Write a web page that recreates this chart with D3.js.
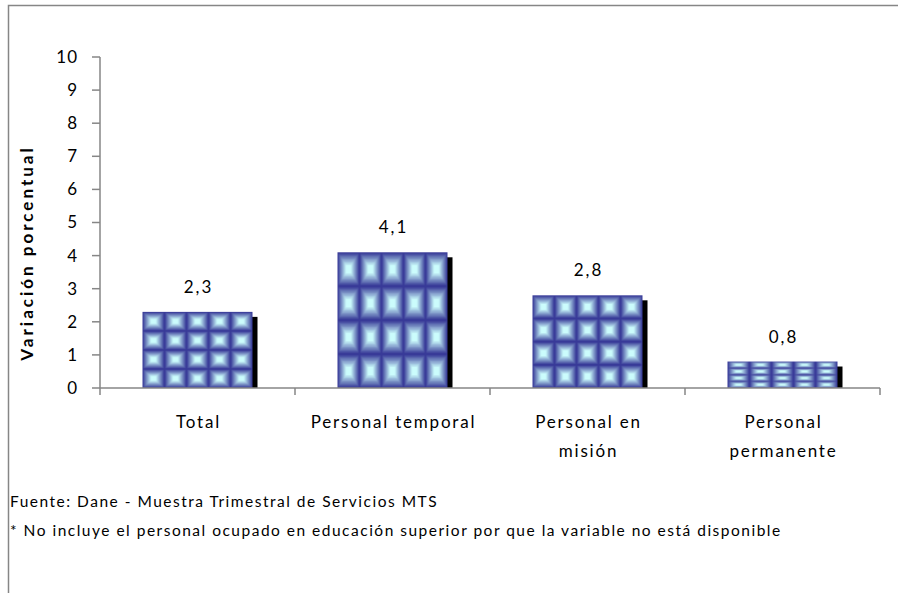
<!DOCTYPE html>
<html>
<head>
<meta charset="utf-8">
<script src="https://cdn.jsdelivr.net/npm/d3@7"></script>
<style>
  body { margin: 0; background: #fff; }
  text { font-family: Lato, "Open Sans", sans-serif; fill: #000; }
</style>
</head>
<body>
<div id="chart"></div>
<script>
// data
var categories = ["Total", "Personal temporal", "Personal en misión", "Personal permanente"];
var catLines = [["Total"], ["Personal temporal"], ["Personal en", "misión"], ["Personal", "permanente"]];
var values = [2.3, 4.1, 2.8, 0.8];
var yTicks = [0, 1, 2, 3, 4, 5, 6, 7, 8, 9, 10];
var notes = ["Fuente: Dane - Muestra Trimestral de Servicios MTS",
             "* No incluye el personal ocupado en educación superior por que la variable no está disponible"];

var W = 898, H = 593;
var margin = {top: 57, left: 100, right: 18, bottom: 205};
var width = W - margin.left - margin.right,
    height = H - margin.top - margin.bottom;

var svg = d3.select("#chart").append("svg")
    .attr("width", W)
    .attr("height", H);

// tiled pattern: 5 x 4 square "pyramids" stretched over every bar
var defs = svg.append("defs");
var pat = defs.append("pattern")
    .attr("id", "tiles")
    .attr("patternUnits", "objectBoundingBox")
    .attr("patternContentUnits", "objectBoundingBox")
    .attr("width", 0.2)
    .attr("height", 0.25);
var steps = 10;
var shade = d3.interpolateRgb("#383a98", "#cbfcfc");
for (var i = 0; i < steps; i++) {
  var fx = 0.2 * i / (2 * steps + 4), fy = 0.25 * i / (2 * steps + 4);
  pat.append("rect")
    .attr("x", fx).attr("y", fy)
    .attr("width", 0.2 - 2 * fx).attr("height", 0.25 - 2 * fy)
    .attr("fill", shade(i / (steps - 1)));
}

// outer frame (only top and left show in the crop)
svg.append("path")
    .attr("d", "M8.5," + H + "V5.5H" + W)
    .attr("fill", "none")
    .attr("stroke", "#868686")
    .attr("stroke-width", 1.5);

var g = svg.append("g")
    .attr("transform", "translate(" + margin.left + "," + margin.top + ")");

var x = d3.scaleBand().domain(categories).range([0, width]).paddingInner(0).paddingOuter(0);
var y = d3.scaleLinear().domain([0, 10]).range([height, 0]);
var barW = 110;

// y axis
g.append("line")
    .attr("x1", 0).attr("x2", 0)
    .attr("y1", y(10)).attr("y2", height + 7)
    .attr("stroke", "#868686").attr("stroke-width", 1.5);
g.selectAll(".ytick")
    .data(yTicks)
    .enter().append("line")
    .attr("x1", -8).attr("x2", 0)
    .attr("y1", d => y(d)).attr("y2", d => y(d))
    .attr("stroke", "#868686").attr("stroke-width", 1.5);
g.selectAll(".ylab")
    .data(yTicks)
    .enter().append("text")
    .attr("x", -22)
    .attr("y", d => y(d))
    .attr("dy", "0.35em")
    .attr("text-anchor", "end")
    .style("font-size", "17px")
    .style("letter-spacing", "1px")
    .text(d => d);

g.append("text")
    .attr("transform", "translate(-67,196) rotate(-90)")
    .attr("text-anchor", "middle")
    .style("font-size", "17px")
    .style("font-weight", "bold")
    .style("letter-spacing", "3px")
    .text("Variación porcentual");

// shadows then bars
g.selectAll(".shadow")
    .data(values)
    .enter().append("rect")
    .attr("x", (d, i) => x(categories[i]) + (x.bandwidth() - barW) / 2 + 5)
    .attr("y", d => y(d) + 5)
    .attr("width", barW)
    .attr("height", d => height - y(d) - 5)
    .attr("fill", "#000");

g.selectAll(".bar")
    .data(values)
    .enter().append("rect")
    .attr("x", (d, i) => x(categories[i]) + (x.bandwidth() - barW) / 2)
    .attr("y", d => y(d))
    .attr("width", barW)
    .attr("height", d => height - y(d))
    .attr("fill", "url(#tiles)");

// value labels
g.selectAll(".val")
    .data(values)
    .enter().append("text")
    .attr("x", (d, i) => x(categories[i]) + x.bandwidth() / 2 + 1)
    .attr("y", d => y(d) - 19)
    .attr("text-anchor", "middle")
    .style("font-size", "17px")
    .style("letter-spacing", "2px")
    .text(d => d.toFixed(1).replace(".", ","));

// x axis
g.append("line")
    .attr("x1", 0).attr("x2", width)
    .attr("y1", height).attr("y2", height)
    .attr("stroke", "#868686").attr("stroke-width", 1.5);
g.selectAll(".xtick")
    .data(categories.slice(1).concat(["end"]))
    .enter().append("line")
    .attr("x1", (d, i) => x.bandwidth() * (i + 1))
    .attr("x2", (d, i) => x.bandwidth() * (i + 1))
    .attr("y1", height).attr("y2", height + 7)
    .attr("stroke", "#868686").attr("stroke-width", 1.5);

var cat = g.selectAll(".cat")
    .data(catLines)
    .enter().append("text")
    .attr("text-anchor", "middle")
    .style("font-size", "17px")
    .style("letter-spacing", "1.8px");
cat.selectAll("tspan")
    .data((d, i) => d.map(t => ({t: t, i: i})))
    .enter().append("tspan")
    .attr("x", d => x(categories[d.i]) + x.bandwidth() / 2 + 1)
    .attr("y", (d, j) => height + 40 + j * 29)
    .text(d => d.t);

// footnotes
svg.selectAll(".note")
    .data(notes)
    .enter().append("text")
    .attr("x", 10)
    .attr("y", (d, i) => 507 + i * 29)
    .style("font-size", "15.5px")
    .style("letter-spacing", "1.5px")
    .text(d => d);
</script>
</body>
</html>
